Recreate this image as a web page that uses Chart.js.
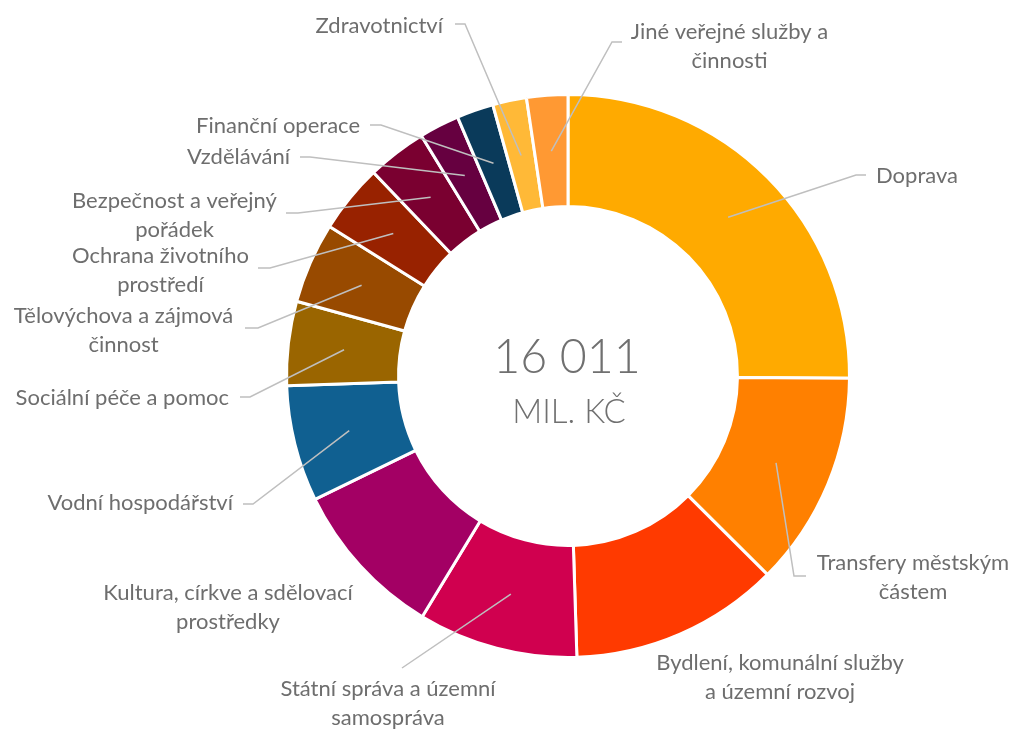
<!DOCTYPE html>
<html><head><meta charset="utf-8">
<script src="https://cdn.jsdelivr.net/npm/chart.js@4.4.1/dist/chart.umd.min.js"></script>
<style>html,body{margin:0;padding:0;background:#fff;overflow:hidden}canvas{display:block}</style>
</head><body>
<canvas id="c" width="1013" height="729"></canvas>
<script>
// ---- data (mil. Kč) ----
const categories = [
  'Doprava',
  'Transfery městským částem',
  'Bydlení, komunální služby a územní rozvoj',
  'Státní správa a územní samospráva',
  'Kultura, církve a sdělovací prostředky',
  'Vodní hospodářství',
  'Sociální péče a pomoc',
  'Tělovýchova a zájmová činnost',
  'Ochrana životního prostředí',
  'Bezpečnost a veřejný pořádek',
  'Vzdělávání',
  'Finanční operace',
  'Zdravotnictví',
  'Jiné veřejné služby a činnosti'
];
const values = [4024, 1975, 1926, 1468, 1459, 1067, 774, 743, 632, 547, 369, 338, 311, 378];
const labelLines = [
  ['Doprava'],
  ['Transfery městským', 'částem'],
  ['Bydlení, komunální služby', 'a územní rozvoj'],
  ['Státní správa a územní', 'samospráva'],
  ['Kultura, církve a sdělovací', 'prostředky'],
  ['Vodní hospodářství'],
  ['Sociální péče a pomoc'],
  ['Tělovýchova a zájmová', 'činnost'],
  ['Ochrana životního', 'prostředí'],
  ['Bezpečnost a veřejný', 'pořádek'],
  ['Vzdělávání'],
  ['Finanční operace'],
  ['Zdravotnictví'],
  ['Jiné veřejné služby a', 'činnosti']
];
const totalText = '16 011';
const unitText = 'MIL. KČ';

// ---- styles ----
const colors = ['#FFAA00','#FF8000','#FF3A00','#D0004F','#A30064','#106091','#9A6500',
                '#984A00','#982200','#7A0030','#660040','#0A3A5A','#FFB937','#FF9933'];
// label placement (annotation layout): text anchor, alignment, leader elbow and end
const labelLayout = [
  {x: 876, y: 176, align: 'left',   elbow: [856, 175], end: [866, 175]},
  {x: 913, y: 563, align: 'center', elbow: [794, 576], end: [806, 576]},
  {x: 780, y: 663, align: 'center'},
  {x: 388, y: 689, align: 'center', elbow: [402, 668]},
  {x: 228, y: 593, align: 'center'},
  {x: 233, y: 503, align: 'right',  elbow: [253, 504], end: [243, 504]},
  {x: 229, y: 398, align: 'right',  elbow: [250, 397], end: [240, 397]},
  {x: 123.5, y: 316, align: 'center', elbow: [258, 328], end: [245, 328]},
  {x: 160.5, y: 256, align: 'center', elbow: [270, 268], end: [258, 268]},
  {x: 174.5, y: 201, align: 'center', elbow: [298, 213], end: [286, 213]},
  {x: 290, y: 157, align: 'right',  elbow: [310, 157], end: [300, 157]},
  {x: 360, y: 126, align: 'right',  elbow: [381, 125], end: [370, 125]},
  {x: 443, y: 26,  align: 'right',  elbow: [465, 24],  end: [455, 24]},
  {x: 729.5, y: 32, align: 'center', elbow: [612, 42], end: [622, 42]}
];
const textColor = '#6e6e6e';
const leaderColor = '#bfbfbf';
const labelFont = '22px Lato, "Open Sans", sans-serif';
const lineHeight = 28.5;

const outerLabels = {
  id: 'outerLabels',
  afterDatasetsDraw(chart) {
    const ctx = chart.ctx;
    const meta = chart.getDatasetMeta(0);
    ctx.save();
    meta.data.forEach((arc, i) => {
      const p = arc.getProps(['x','y','startAngle','endAngle','innerRadius','outerRadius'], true);
      const mid = (p.startAngle + p.endAngle) / 2;
      const r = (p.innerRadius + p.outerRadius) / 2;
      const ax = p.x + Math.cos(mid) * r, ay = p.y + Math.sin(mid) * r;
      const L = labelLayout[i];
      if (L.elbow) {
        ctx.beginPath();
        ctx.strokeStyle = leaderColor;
        ctx.lineWidth = 1.5;
        ctx.moveTo(ax, ay);
        ctx.lineTo(L.elbow[0], L.elbow[1]);
        if (L.end) ctx.lineTo(L.end[0], L.end[1]);
        ctx.stroke();
      }
      ctx.fillStyle = textColor;
      ctx.font = labelFont;
      ctx.textBaseline = 'middle';
      ctx.textAlign = L.align;
      labelLines[i].forEach((t, k) => ctx.fillText(t, L.x, L.y + k * lineHeight));
    });
    const c = meta.data[0];
    ctx.fillStyle = '#707070';
    ctx.textAlign = 'center';
    ctx.textBaseline = 'middle';
    ctx.font = '300 46.5px Lato, sans-serif';
    ctx.fillText(totalText, c.x - 1, c.y - 18);
    ctx.font = '300 33px Lato, sans-serif';
    ctx.fillText(unitText, c.x + 1, c.y + 36);
    ctx.restore();
  }
};

new Chart(document.getElementById('c'), {
  type: 'doughnut',
  data: {
    labels: categories,
    datasets: [{
      data: values,
      backgroundColor: colors,
      borderColor: '#ffffff',
      borderWidth: 3
    }]
  },
  options: {
    responsive: false,
    animation: false,
    radius: 281.5,
    cutout: '60.2%',
    layout: {padding: {left: 123, right: 0, top: 23, bottom: 0}},
    plugins: {legend: {display: false}, tooltip: {enabled: false}}
  },
  plugins: [outerLabels]
});
</script>
</body></html>
